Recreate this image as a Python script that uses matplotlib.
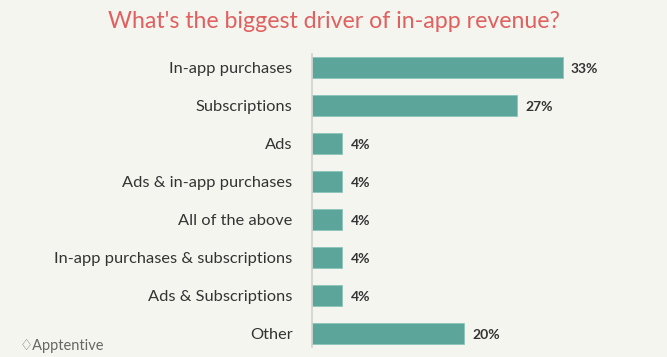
import matplotlib.pyplot as plt

categories = [
    "In-app purchases",
    "Subscriptions",
    "Ads",
    "Ads & in-app purchases",
    "All of the above",
    "In-app purchases & subscriptions",
    "Ads & Subscriptions",
    "Other",
]
shares = [33, 27, 4, 4, 4, 4, 4, 20]

bg = "#f5f5f0"
bar_color = "#5ca59a"
text_color = "#333333"

plt.rcParams["font.family"] = ["Lato", "DejaVu Sans"]

fig = plt.figure(figsize=(6.67, 3.57), dpi=100, facecolor=bg)
ax = fig.add_axes([312 / 667, 0.0286, 300 / 667, 0.8196], facecolor=bg)

ypos = list(range(len(categories)))
ax.barh(ypos, shares, height=0.55, color=bar_color, edgecolor="#8cc4bb", linewidth=0.6)
ax.set_ylim(7.35, -0.35)
ax.set_xlim(0, 39.5)

for y, v in zip(ypos, shares):
    ax.text(v + 1.1, y + 0.05, f"{v}%", va="center", ha="left",
            fontsize=10, fontweight="bold", color=text_color)

ax.set_yticks(ypos)
ax.set_yticklabels(categories, fontsize=11.8, color=text_color)
ax.tick_params(axis="y", length=0, pad=14)
ax.set_xticks([])
for s in ["top", "right", "bottom"]:
    ax.spines[s].set_visible(False)
ax.spines["left"].set_color("#d0d0cc")
ax.spines["left"].set_linewidth(1.2)

fig.text(0.5, 1 - 22 / 357, "What's the biggest driver of in-app revenue?",
         ha="center", va="center", fontsize=16.7, color="#e0605f")
fig.text(20 / 667, 1 - 346 / 357, "\u2662Apptentive", ha="left", va="center",
         fontsize=10.5, color="#666666")

fig.savefig("out.png", dpi=100, facecolor=bg)
